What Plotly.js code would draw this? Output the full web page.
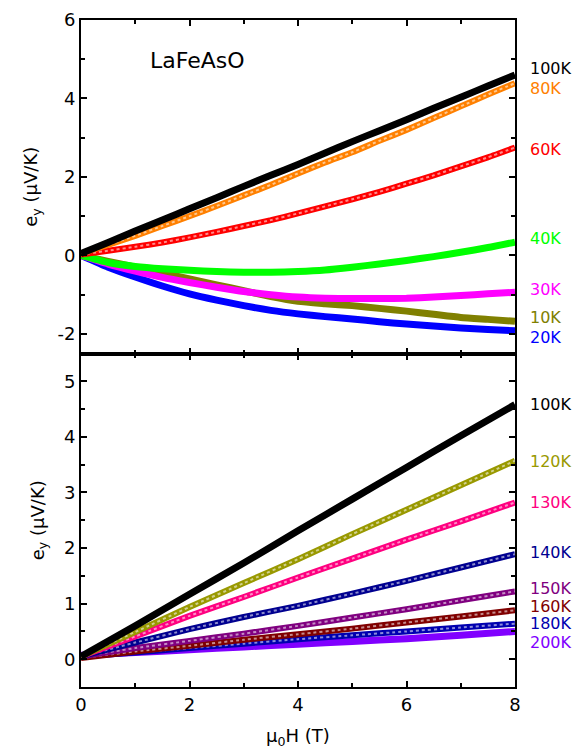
<!DOCTYPE html>
<html>
<head>
<meta charset="utf-8">
<script src="https://cdn.plot.ly/plotly-3.0.1.min.js"></script>
<style>html,body{margin:0;padding:0;background:#fff;}#chart{width:572px;height:749px;}</style>
</head>
<body>
<div id="chart"></div>
<script>
// ---- data ----
var xTop = [0,0.5,1,1.5,2,2.5,3,3.5,4,4.5,5,5.5,6,6.5,7,7.5,8];
var top100K = [0.05,0.33,0.62,0.90,1.19,1.47,1.76,2.04,2.32,2.61,2.90,3.18,3.46,3.75,4.03,4.32,4.60];
var top80K  = [0.05,0.27,0.50,0.75,1.00,1.26,1.53,1.80,2.09,2.37,2.63,2.92,3.20,3.50,3.80,4.10,4.39];
var top60K  = [0.02,0.12,0.22,0.33,0.46,0.60,0.75,0.90,1.07,1.25,1.43,1.62,1.83,2.04,2.27,2.50,2.75];
var top40K  = [0.00,-0.18,-0.28,-0.34,-0.38,-0.41,-0.43,-0.43,-0.41,-0.37,-0.30,-0.22,-0.13,-0.03,0.08,0.20,0.34];
var top30K  = [0.00,-0.22,-0.40,-0.56,-0.69,-0.81,-0.92,-1.00,-1.06,-1.09,-1.10,-1.10,-1.09,-1.06,-1.02,-0.98,-0.94];
var top10K  = [0.00,-0.15,-0.30,-0.45,-0.60,-0.75,-0.90,-1.05,-1.17,-1.23,-1.28,-1.35,-1.42,-1.50,-1.58,-1.63,-1.68];
var top20K  = [0.00,-0.30,-0.55,-0.78,-0.98,-1.14,-1.28,-1.40,-1.49,-1.56,-1.62,-1.69,-1.75,-1.80,-1.85,-1.89,-1.92];

var xBot = [0,1,2,3,4,5,6,7,8];
var bot100K = [0.05,0.60,1.17,1.73,2.31,2.88,3.45,4.02,4.58];
var bot120K = [0.05,0.49,0.94,1.37,1.80,2.25,2.69,3.13,3.57];
var bot130K = [0.05,0.41,0.78,1.12,1.47,1.81,2.15,2.48,2.82];
var bot140K = [0.05,0.30,0.54,0.76,0.96,1.18,1.41,1.65,1.89];
var bot150K = [0.05,0.20,0.33,0.46,0.60,0.75,0.90,1.06,1.22];
var bot160K = [0.02,0.14,0.24,0.35,0.45,0.55,0.66,0.77,0.88];
var bot180K = [0.05,0.12,0.20,0.28,0.36,0.43,0.50,0.57,0.64];
var bot200K = [0.07,0.12,0.17,0.22,0.27,0.32,0.37,0.43,0.50];

var topLabels = ["100K","80K","60K","40K","30K","10K","20K"];
var botLabels = ["100K","120K","130K","140K","150K","160K","180K","200K"];
var xTickVals = [0,2,4,6,8];
var xTickLabels = ["0","2","4","6","8"];
var yTopTickVals = [-2,0,2,4,6];
var yTopTickLabels = ["-2","0","2","4","6"];
var yBotTickVals = [0,1,2,3,4,5];
var yBotTickLabels = ["0","1","2","3","4","5"];

// ---- styles ----
var topSeries = [top100K, top80K, top60K, top40K, top30K, top10K, top20K];
var topColors = ["#000000","#FF8000","#FF0000","#00FF00","#FF00FF","#808000","#0000FF"];
var topHollow = [false,true,true,false,false,false,false];
var topLabelY = [4.77,4.26,2.71,0.44,-0.88,-1.57,-2.10];

var botSeries = [bot100K, bot120K, bot130K, bot140K, bot150K, bot160K, bot180K, bot200K];
var botColors = ["#000000","#999900","#FF0080","#000090","#800080","#800000","#0000B0","#8000FF"];
var botHollow = [false,true,true,true,true,true,true,false];
var botLabelY = [4.58,3.55,2.82,1.92,1.28,0.95,0.64,0.30];

var traces = [];
function addSeries(xs, ys, color, hollow, xa, ya) {
  traces.push({x: xs, y: ys, xaxis: xa, yaxis: ya, type: 'scatter', mode: 'lines',
    line: {color: color, width: hollow ? 6 : 7, shape: 'spline', smoothing: 0.6},
    showlegend: false, hoverinfo: 'skip'});
  if (hollow) {
    traces.push({x: xs, y: ys, xaxis: xa, yaxis: ya, type: 'scatter', mode: 'lines',
      line: {color: 'rgba(255,255,255,0.55)', width: 2, dash: 'dot', shape: 'spline', smoothing: 0.6},
      showlegend: false, hoverinfo: 'skip'});
  }
}
// draw in reverse order so that the first-listed series are on top
for (var i = topSeries.length - 1; i >= 0; i--) addSeries(xTop, topSeries[i], topColors[i], topHollow[i], 'x2', 'y');
for (var j = botSeries.length - 1; j >= 0; j--) addSeries(xBot, botSeries[j], botColors[j], botHollow[j], 'x', 'y2');

var FONT = "DejaVu Sans, Arial, sans-serif";
var annotations = [];
topLabels.forEach(function (t, i) {
  annotations.push({text: t, xref: 'paper', yref: 'y', x: 1.03, y: topLabelY[i],
    xanchor: 'left', yanchor: 'middle', showarrow: false,
    font: {family: FONT, size: 16, color: topColors[i]}});
});
botLabels.forEach(function (t, i) {
  annotations.push({text: t, xref: 'paper', yref: 'y2', x: 1.03, y: botLabelY[i],
    xanchor: 'left', yanchor: 'middle', showarrow: false,
    font: {family: FONT, size: 16, color: botColors[i]}});
});
annotations.push({text: 'LaFeAsO', xref: 'x2', yref: 'y', x: 2.14, y: 4.96,
  xanchor: 'center', yanchor: 'middle', showarrow: false,
  font: {family: FONT, size: 22, color: '#000'}});

var axisCommon = {
  showline: true, linecolor: '#000', linewidth: 2, mirror: 'ticks',
  ticks: 'inside', tickcolor: '#000', tickwidth: 2, ticklen: 6,
  showgrid: false, zeroline: false,
  tickfont: {family: FONT, size: 18, color: '#000'}
};

var layout = {
  width: 572, height: 749,
  margin: {l: 81, r: 57, t: 20, b: 62},
  paper_bgcolor: '#fff', plot_bgcolor: '#fff',
  showlegend: false,
  xaxis: Object.assign({}, axisCommon, {
    anchor: 'y2', range: [0, 8], tickmode: 'array', tickvals: xTickVals, ticktext: xTickLabels,
    minor: {dtick: 1, ticklen: 4, tickwidth: 2, tickcolor: '#000', ticks: 'inside'},
    title: {text: 'μ<sub>0</sub>H (T)', font: {family: FONT, size: 18, color: '#000'}, standoff: 16}
  }),
  xaxis2: Object.assign({}, axisCommon, {
    anchor: 'y', matches: 'x', range: [0, 8], tickmode: 'array', tickvals: xTickVals, showticklabels: false,
    minor: {dtick: 1, ticklen: 4, tickwidth: 2, tickcolor: '#000', ticks: 'inside'}
  }),
  yaxis: Object.assign({}, axisCommon, {
    domain: [0.5, 1], anchor: 'x2', range: [-2.5, 6], tickmode: 'array', tickvals: yTopTickVals, ticktext: yTopTickLabels,
    minor: {dtick: 1, ticklen: 4, tickwidth: 2, tickcolor: '#000', ticks: 'inside'},
    title: {text: 'e<sub>y</sub> (μV/K)', font: {family: FONT, size: 18, color: '#000'}, standoff: 15}
  }),
  yaxis2: Object.assign({}, axisCommon, {
    domain: [0, 0.5], anchor: 'x', range: [-0.5, 5.5], tickmode: 'array', tickvals: yBotTickVals, ticktext: yBotTickLabels,
    minor: {dtick: 0.5, ticklen: 4, tickwidth: 2, tickcolor: '#000', ticks: 'inside'},
    title: {text: 'e<sub>y</sub> (μV/K)', font: {family: FONT, size: 18, color: '#000'}, standoff: 15}
  }),
  annotations: annotations
};

Plotly.newPlot('chart', traces, layout, {staticPlot: true, displayModeBar: false});
</script>
</body>
</html>
